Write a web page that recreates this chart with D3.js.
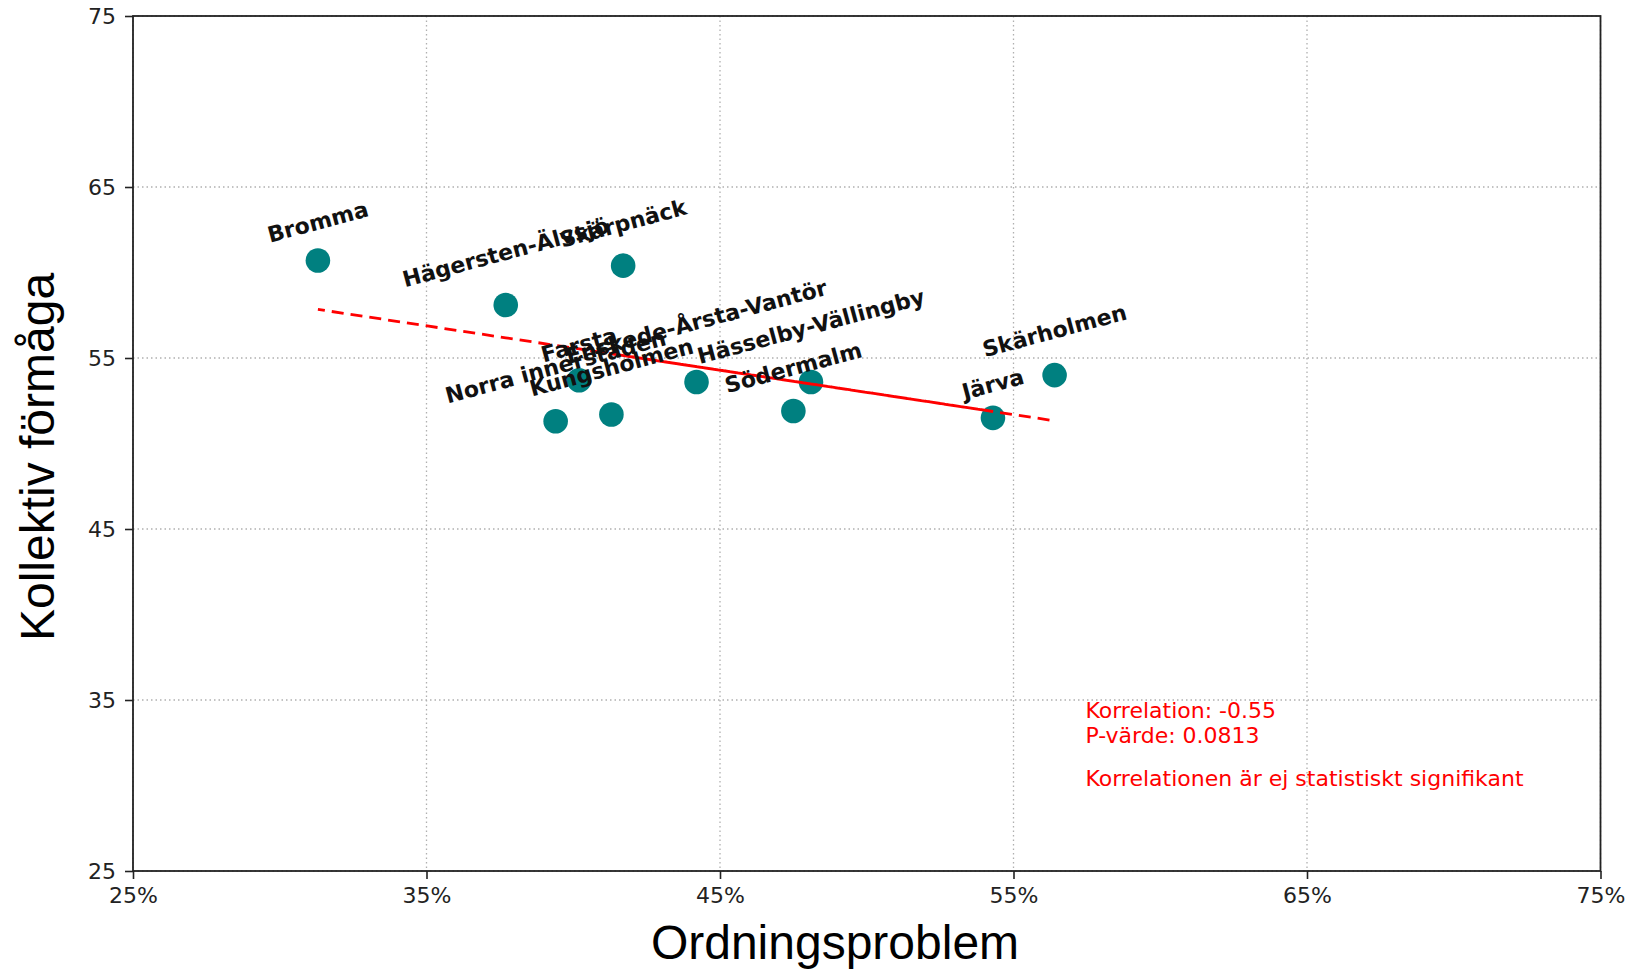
<!DOCTYPE html>
<html>
<head>
<meta charset="utf-8">
<script src="https://d3js.org/d3.v7.min.js"></script>
<style>
  html, body { margin: 0; padding: 0; background: #fff; }
  svg { display: block; }
</style>
</head>
<body>
<svg id="chart" width="1626" height="969"></svg>
<script>
// ---- Data ----
const districts = ["Bromma", "Hägersten-Älvsjö", "Norra innerstaden", "Järva", "Farsta",
  "Hässelby-Vällingby", "Kungsholmen", "Södermalm", "Skärpnäck", "Enskede-Årsta-Vantör", "Skärholmen"];
const ordningsproblem = [31.3, 37.7, 39.4, 54.3, 40.2, 48.1, 41.3, 47.5, 41.7, 44.2, 56.4];
const kollektivFormaga = [60.7, 58.1, 51.3, 51.5, 53.7, 53.6, 51.7, 51.9, 60.4, 53.6, 54.0];
const xTicks = [25, 35, 45, 55, 65, 75];
const yTicks = [25, 35, 45, 55, 65, 75];
const statLines = ["Korrelation: -0.55", "P-värde: 0.0813"];
const signifText = "Korrelationen är ej statistiskt signifikant";
const xTitle = "Ordningsproblem";
const yTitle = "Kollektiv förmåga";

// ---- Layout ----
const L = 133, R = 1600.5, T = 16, B = 871;
const svg = d3.select("#chart");
const x = d3.scaleLinear().domain([25, 75]).range([L, R]);
const y = d3.scaleLinear().domain([25, 75]).range([B, T]);

const tickFont = "'DejaVu Sans', sans-serif";

// grid
const grid = svg.append("g");
grid.selectAll(".gx").data(xTicks).join("line")
  .attr("x1", d => x(d)).attr("x2", d => x(d)).attr("y1", T).attr("y2", B)
  .attr("stroke", "#b0b0b0").attr("stroke-width", 1.3).attr("stroke-dasharray", "1.5,3");
grid.selectAll(".gy").data(yTicks).join("line")
  .attr("y1", d => y(d)).attr("y2", d => y(d)).attr("x1", L).attr("x2", R)
  .attr("stroke", "#b0b0b0").attr("stroke-width", 1.3).attr("stroke-dasharray", "1.5,3");

// axes
const xAxis = d3.axisBottom(x).tickValues(xTicks).tickFormat(d => d + "%").tickSize(8).tickPadding(8);
const yAxis = d3.axisLeft(y).tickValues(yTicks).tickFormat(d => d).tickSize(8).tickPadding(9);
const gx = svg.append("g").attr("transform", `translate(0,${B})`).call(xAxis);
const gy = svg.append("g").attr("transform", `translate(${L},0)`).call(yAxis);
[gx, gy].forEach(g => {
  g.select(".domain").remove();
  g.selectAll(".tick line").attr("stroke", "#222").attr("stroke-width", 1.6);
  g.selectAll(".tick text").attr("font-family", tickFont).attr("font-size", 22).attr("fill", "#222");
});

// frame
svg.append("rect").attr("x", L).attr("y", T).attr("width", R - L).attr("height", B - T)
  .attr("fill", "none").attr("stroke", "#222").attr("stroke-width", 1.8);

// points
const pts = districts.map((name, i) => ({ name, xv: ordningsproblem[i], yv: kollektivFormaga[i] }));
svg.append("g").selectAll("circle").data(pts).join("circle")
  .attr("cx", d => x(d.xv)).attr("cy", d => y(d.yv)).attr("r", 12.3)
  .attr("fill", "#008080");

// regression (plotted through the data x values in data order, so passes overlap)
const mx = d3.mean(ordningsproblem), my = d3.mean(kollektivFormaga);
let sxy = 0, sxx = 0;
ordningsproblem.forEach((xv, i) => { sxy += (xv - mx) * (kollektivFormaga[i] - my); sxx += (xv - mx) ** 2; });
const slope = sxy / sxx, intercept = my - slope * mx;
const line = d3.line().x(d => x(d)).y(d => y(slope * d + intercept));
svg.append("path").datum(ordningsproblem).attr("d", line)
  .attr("fill", "none").attr("stroke", "#ff0000").attr("stroke-width", 2.8)
  .attr("stroke-dasharray", "12,7").attr("stroke-dashoffset", 5);

// labels
const lblG = svg.append("g");
const ang = 15 * Math.PI / 180;
pts.forEach(d => {
  const g = lblG.append("g");
  const t = g.append("text").text(d.name)
    .attr("font-family", tickFont).attr("font-weight", "bold").attr("font-size", 22)
    .attr("text-anchor", "middle").attr("fill", "#111");
  const bb = t.node().getBBox();
  const cy = bb.y + bb.height / 2;
  const H = bb.width * Math.sin(ang) + bb.height * Math.cos(ang);
  const px = x(d.xv), py = y(d.yv);
  g.attr("transform", `translate(${px},${py - 13 - H / 2}) rotate(-15) translate(0,${-cy})`);
});

// stats text
const st = svg.append("g").attr("font-family", tickFont).attr("font-size", 22).attr("fill", "#ff0000");
st.selectAll("text.s").data(statLines).join("text")
  .attr("x", x(57.45)).attr("y", (d, i) => 718 + i * 25).text(d => d);
st.append("text").attr("x", x(57.45)).attr("y", 786).text(signifText);

// axis titles
svg.append("text").attr("x", 835).attr("y", 959).attr("text-anchor", "middle")
  .attr("font-family", "'Liberation Sans', Arial, sans-serif").attr("font-size", 48).attr("fill", "#000")
  .text(xTitle);
svg.append("text").attr("transform", "translate(54,457) rotate(-90)").attr("text-anchor", "middle")
  .attr("font-family", "'Liberation Sans', Arial, sans-serif").attr("font-size", 48).attr("fill", "#000")
  .text(yTitle);
</script>
</body>
</html>
